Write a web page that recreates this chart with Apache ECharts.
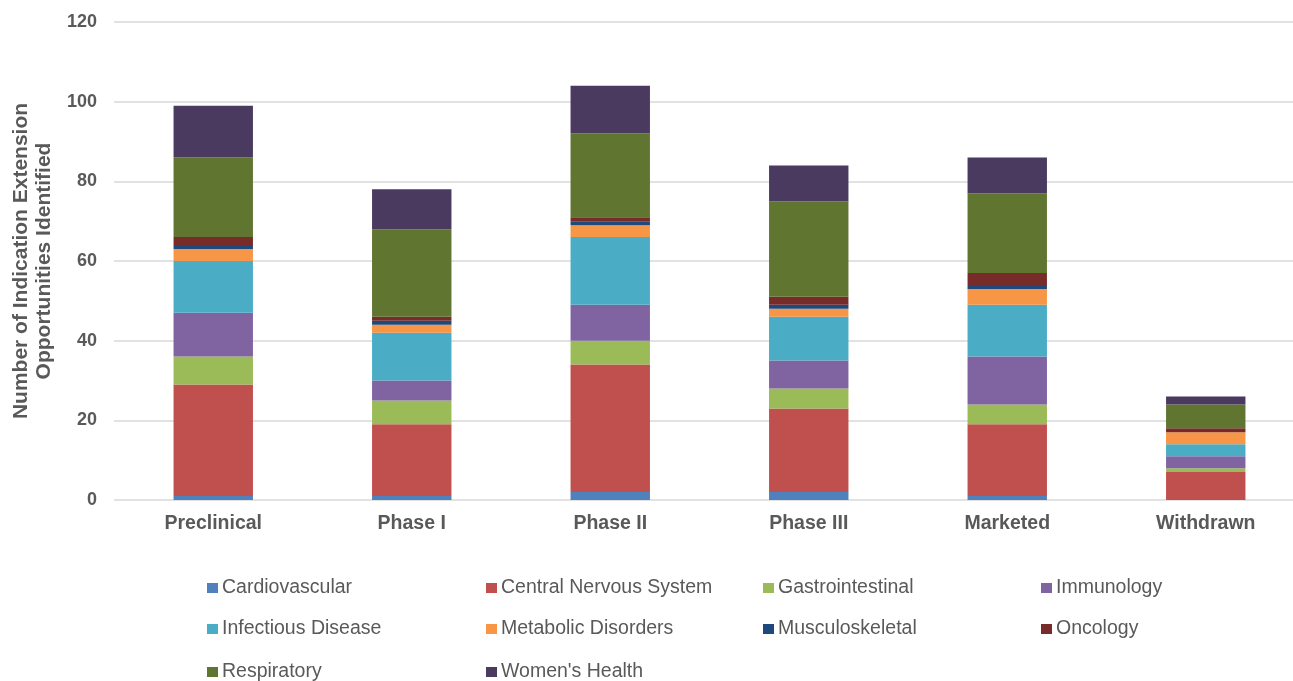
<!DOCTYPE html>
<html>
<head>
<meta charset="utf-8">
<script src="https://cdn.jsdelivr.net/npm/echarts@6/dist/echarts.min.js"></script>
<style>
  html, body { margin: 0; padding: 0; background: #ffffff; overflow: hidden; }
  /* plot area runs slightly past the right edge of the page */
  #chart { width: 1320px; height: 681px; }
</style>
</head>
<body>
<div id="chart"></div>
<script>
// Development stages along the x axis
const stages = ['Preclinical', 'Phase I', 'Phase II', 'Phase III', 'Marketed', 'Withdrawn'];

// Therapeutic areas (stack order, bottom to top)
const areas = ['Cardiovascular', 'Central Nervous System', 'Gastrointestinal', 'Immunology',
  'Infectious Disease', 'Metabolic Disorders', 'Musculoskeletal', 'Oncology',
  'Respiratory', "Women's Health"];

// Counts per stage for each therapeutic area
const cardiovascular   = [1, 1, 2, 2, 1, 0];
const centralNervous   = [28, 18, 32, 21, 18, 7];
const gastrointestinal = [7, 6, 6, 5, 5, 1];
const immunology       = [11, 5, 9, 7, 12, 3];
const infectious       = [13, 12, 17, 11, 13, 3];
const metabolic        = [3, 2, 3, 2, 4, 3];
const musculoskeletal  = [1, 1, 1, 1, 1, 0];
const oncology         = [2, 1, 1, 2, 3, 1];
const respiratory      = [20, 22, 21, 24, 20, 6];
const womensHealth     = [13, 10, 12, 9, 9, 2];

// Y axis ticks
const yTicks = [0, 20, 40, 60, 80, 100, 120];

const seriesValues = [cardiovascular, centralNervous, gastrointestinal, immunology,
  infectious, metabolic, musculoskeletal, oncology, respiratory, womensHealth];

const palette = ['#4F81BD', '#C0504D', '#9BBB59', '#8064A2', '#4BACC6',
  '#F79646', '#1F497D', '#772C2A', '#5F7530', '#4B3A5F'];

const textGray = '#595959';
const fontFamily = '"Liberation Sans", Arial, sans-serif';

// Legend laid out as a 4-column grid, one legend component per entry
const legendCols = [202, 481, 758, 1036];
const legendRows = [573, 614, 657];
const legends = areas.map((name, i) => ({
  data: [name],
  left: legendCols[i % 4],
  top: legendRows[Math.floor(i / 4)],
  itemWidth: 11,
  itemHeight: 10,
  itemGap: 0,
  icon: 'rect',
  selectedMode: false,
  textStyle: { fontFamily: fontFamily, fontSize: 19.5, color: textGray, padding: [0, 0, 0, -1] }
}));

const chart = echarts.init(document.getElementById('chart'), null, { renderer: 'canvas' });

chart.setOption({
  animation: false,
  color: palette,
  textStyle: { fontFamily: fontFamily },
  grid: { left: 114, top: 22, width: 1191, height: 478, containLabel: false },
  legend: legends,
  xAxis: {
    type: 'category',
    data: stages,
    axisLine: { show: false },
    axisTick: { show: false },
    axisLabel: { color: textGray, fontSize: 19.5, fontWeight: 'bold', margin: 14, fontFamily: fontFamily }
  },
  yAxis: {
    type: 'value',
    min: yTicks[0],
    max: yTicks[yTicks.length - 1],
    interval: yTicks[1] - yTicks[0],
    name: 'Number of Indication Extension\nOpportunities Identified',
    nameLocation: 'middle',
    nameGap: 58,
    nameTextStyle: { color: textGray, fontSize: 21, fontWeight: 'bold', lineHeight: 23, fontFamily: fontFamily },
    axisLine: { show: false },
    axisTick: { show: false },
    axisLabel: { color: textGray, fontSize: 18, fontWeight: 'bold', margin: 17, fontFamily: fontFamily },
    splitLine: { lineStyle: { color: '#d9d9d9', width: 1.5 } }
  },
  series: areas.map((name, i) => ({
    name: name,
    type: 'bar',
    stack: 'total',
    barWidth: '40%',
    data: seriesValues[i],
    itemStyle: { color: palette[i] }
  }))
});
</script>
</body>
</html>
